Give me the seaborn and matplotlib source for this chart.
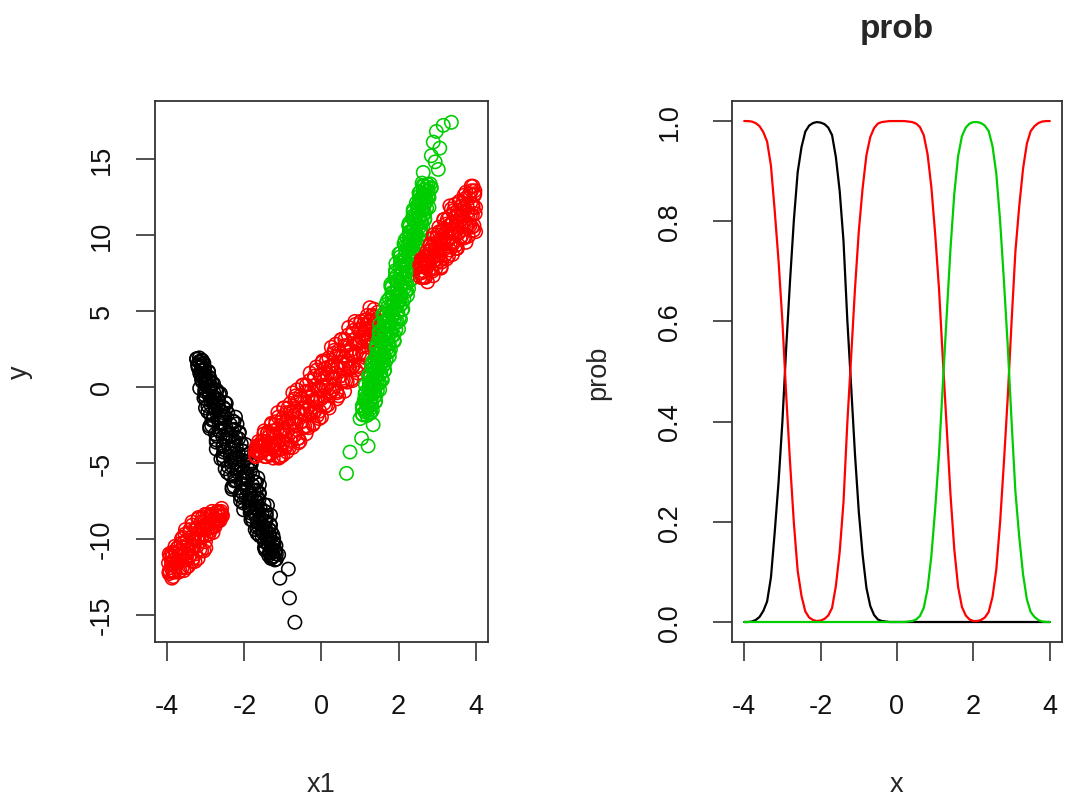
import matplotlib
matplotlib.use("Agg")
import matplotlib.pyplot as plt
import pandas as pd
import seaborn as sns

# ---------------- left panel: scatter (x1, y) ----------------
black_x = [-3.17, -3.24, -3.09, -3.16, -3.09, -3.21, -3.11, -3.03, -3.12, -2.93,
           -3.16, -3.01, -3.07, -2.90, -3.11, -2.92, -2.99, -2.80, -3.01, -2.90,
           -3.16, -2.74, -3.03, -2.79, -2.65, -2.91, -2.82, -3.00, -2.67, -2.81,
           -2.47, -2.87, -2.67, -3.01, -2.48, -2.75, -2.55, -2.88, -2.61, -2.23,
           -2.50, -2.84, -2.27, -2.61, -2.36, -2.90, -2.53, -2.27, -2.66, -2.13,
           -2.75, -2.38, -2.56, -2.15, -2.73, -2.24, -2.46, -1.97, -2.56, -2.30,
           -2.73, -2.07, -2.54, -2.16, -1.95, -2.37, -2.24, -2.54, -2.01, -2.24,
           -1.82, -2.33, -2.07, -2.50, -1.84, -2.19, -1.93, -2.36, -2.03, -1.65,
           -1.92, -2.26, -1.69, -2.03, -1.78, -2.32, -1.95, -1.69, -2.08, -1.61,
           -2.12, -1.81, -1.96, -1.62, -2.10, -1.69, -1.87, -1.40, -1.88, -1.67,
           -2.02, -1.47, -1.85, -1.54, -1.43, -1.69, -1.60, -1.78, -1.45, -1.58,
           -1.32, -1.63, -1.46, -1.72, -1.31, -1.52, -1.35, -1.61, -1.40, -1.24,
           -1.35, -1.48, -1.23, -1.37, -1.25, -1.48, -1.31, -1.19, -1.35, -1.17,
           -1.37, -1.28, -1.31, -1.21,
           -0.86, -1.08, -0.83, -0.69]
black_y = [1.9, 1.8, 1.7, 1.6, 1.5, 1.4, 1.3, 1.2, 1.1, 1.0,
           0.9, 0.8, 0.7, 0.6, 0.5, 0.4, 0.3, 0.2, 0.1, 0.0,
           -0.1, -0.2, -0.3, -0.4, -0.5, -0.6, -0.7, -0.8, -0.9, -1.0,
           -1.1, -1.2, -1.3, -1.4, -1.5, -1.6, -1.7, -1.8, -1.9, -2.0,
           -2.1, -2.2, -2.3, -2.4, -2.5, -2.6, -2.7, -2.8, -2.9, -3.0,
           -3.1, -3.2, -3.3, -3.4, -3.5, -3.6, -3.7, -3.8, -3.9, -4.0,
           -4.1, -4.2, -4.3, -4.4, -4.5, -4.6, -4.7, -4.8, -4.9, -5.0,
           -5.1, -5.2, -5.3, -5.4, -5.5, -5.6, -5.7, -5.8, -5.9, -6.0,
           -6.1, -6.2, -6.3, -6.4, -6.5, -6.6, -6.7, -6.8, -6.9, -7.0,
           -7.1, -7.2, -7.3, -7.4, -7.5, -7.6, -7.7, -7.8, -7.9, -8.0,
           -8.1, -8.2, -8.3, -8.4, -8.5, -8.6, -8.7, -8.8, -8.9, -9.0,
           -9.1, -9.2, -9.3, -9.4, -9.5, -9.6, -9.7, -9.8, -9.9, -10.0,
           -10.1, -10.2, -10.3, -10.4, -10.5, -10.6, -10.7, -10.8, -10.9, -11.0,
           -11.1, -11.2, -11.3, -11.4,
           -12.0, -12.6, -13.9, -15.5]
black_x2 = [-3.24, -3.10, -3.18, -3.05, -3.21, -3.10, -3.20, -3.04, -3.11, -2.93,
            -3.04, -3.13, -2.93, -3.02, -2.95, -3.10, -2.84, -3.01, -2.87, -2.93,
            -3.02, -2.71, -2.92, -2.62, -3.03, -2.79, -3.05, -2.68, -2.87, -2.50,
            -2.74, -2.95, -2.55, -2.76, -2.62, -2.95, -2.43, -2.80, -2.53, -2.64,
            -2.81, -2.31, -2.66, -2.19, -2.85, -2.48, -2.90, -2.33, -2.63, -2.14,
            -2.44, -2.71, -2.21, -2.48, -2.31, -2.73, -2.08, -2.54, -2.21, -2.35,
            -2.52, -2.02, -2.37, -1.90, -2.56, -2.19, -2.61, -2.04, -2.34, -1.85,
            -2.15, -2.42, -1.92, -2.19, -2.02, -2.44, -1.79, -2.25, -1.92, -2.06,
            -2.23, -1.73, -2.08, -1.61, -2.27, -1.90, -2.32, -1.75, -2.05, -1.62,
            -1.87, -2.08, -1.67, -1.89, -1.68, -2.03, -1.49, -1.87, -1.59, -1.71,
            -1.84, -1.43, -1.72, -1.32, -1.81, -1.57, -1.83, -1.46, -1.65, -1.34,
            -1.52, -1.68, -1.37, -1.53, -1.41, -1.67, -1.26, -1.54, -1.33, -1.41,
            -1.47, -1.25, -1.39, -1.18, -1.46, -1.29, -1.46, -1.21, -1.33, -1.11,
            -1.24, -1.28, -1.17]
black_y2 = [1.85, 1.75, 1.65, 1.55, 1.45, 1.35, 1.25, 1.15, 1.05, 0.95,
            0.85, 0.75, 0.65, 0.55, 0.45, 0.35, 0.25, 0.15, 0.05, -0.05,
            -0.15, -0.25, -0.35, -0.45, -0.55, -0.65, -0.75, -0.85, -0.95, -1.05,
            -1.15, -1.25, -1.35, -1.45, -1.55, -1.65, -1.75, -1.85, -1.95, -2.05,
            -2.15, -2.25, -2.35, -2.45, -2.55, -2.65, -2.75, -2.85, -2.95, -3.05,
            -3.15, -3.25, -3.35, -3.45, -3.55, -3.65, -3.75, -3.85, -3.95, -4.05,
            -4.15, -4.25, -4.35, -4.45, -4.55, -4.65, -4.75, -4.85, -4.95, -5.05,
            -5.15, -5.25, -5.35, -5.45, -5.55, -5.65, -5.75, -5.85, -5.95, -6.05,
            -6.15, -6.25, -6.35, -6.45, -6.55, -6.65, -6.75, -6.85, -6.95, -7.05,
            -7.15, -7.25, -7.35, -7.45, -7.55, -7.65, -7.75, -7.85, -7.95, -8.05,
            -8.15, -8.25, -8.35, -8.45, -8.55, -8.65, -8.75, -8.85, -8.95, -9.05,
            -9.15, -9.25, -9.35, -9.45, -9.55, -9.65, -9.75, -9.85, -9.95, -10.05,
            -10.15, -10.25, -10.35, -10.45, -10.55, -10.65, -10.75, -10.85, -10.95, -11.05,
            -11.15, -11.25, -11.35]

red_a_x = [-3.97, -3.94, -3.92, -3.89, -3.87, -3.84, -3.81, -3.79, -3.76, -3.74,
           -3.71, -3.68, -3.66, -3.63, -3.61, -3.58, -3.55, -3.53, -3.50, -3.48,
           -3.45, -3.42, -3.40, -3.37, -3.35, -3.32, -3.29, -3.27, -3.24, -3.22,
           -3.19, -3.16, -3.14, -3.11, -3.09, -3.06, -3.03, -3.01, -2.98, -2.96,
           -2.93, -2.90, -2.88, -2.85, -2.83, -2.80, -2.77, -2.75, -2.72, -2.70,
           -2.67, -2.64, -2.62, -2.59, -2.57,
           -3.20, -3.35, -3.50, -3.70, -3.85, -3.95, -3.00, -3.88, -3.95, -3.80, -3.60]
red_a_y = [-11.6, -12.1, -11.1, -11.6, -11.2, -12.1, -11.4, -10.9, -11.5, -10.6,
           -11.6, -10.8, -11.4, -10.0, -11.9, -10.3, -11.0, -9.4, -11.2, -10.4,
           -11.8, -9.6, -11.1, -9.9, -9.1, -10.5, -10.1, -11.0, -9.3, -10.0,
           -8.6, -10.2, -9.4, -10.8, -8.6, -9.7, -8.9, -10.2, -9.2, -8.4,
           -8.9, -9.5, -8.4, -9.0, -8.5, -9.2, -8.7, -8.4, -8.8, -8.2,
           -8.8, -8.3, -8.5, -8.0, -8.5,
           -11.3, -11.5, -11.9, -12.2, -12.5, -12.3, -10.6, -12.6, -11.0, -10.5, -9.9]
red_a_x2 = [-3.957, -3.931, -3.905, -3.879, -3.853, -3.827, -3.801, -3.775, -3.749, -3.723,
            -3.697, -3.671, -3.645, -3.619, -3.593, -3.567, -3.541, -3.515, -3.489, -3.463,
            -3.437, -3.411, -3.385, -3.359, -3.333, -3.307, -3.281, -3.255, -3.229, -3.203,
            -3.177, -3.151, -3.125, -3.099, -3.073, -3.047, -3.021, -2.995, -2.969, -2.943,
            -2.917, -2.891, -2.865, -2.839, -2.813, -2.787, -2.761, -2.735, -2.709, -2.683,
            -2.657, -2.631, -2.605, -2.579]
red_a_y2 = [-12.2, -11.2, -11.9, -10.9, -12.2, -11.4, -12.2, -11.0, -11.6, -10.6,
            -11.1, -12.1, -10.3, -11.2, -10.6, -12.1, -9.7, -11.4, -10.1, -10.7,
            -11.2, -9.4, -10.7, -8.9, -11.3, -10.0, -11.5, -9.4, -10.5, -8.7,
            -9.8, -10.7, -8.9, -9.9, -9.2, -10.8, -8.4, -9.8, -9.0, -9.3,
            -9.7, -8.5, -9.3, -8.2, -9.6, -8.8, -9.2, -8.5, -8.8, -8.2,
            -8.5, -8.8, -8.2, -8.4]

red_b_x = [-1.720, -1.695, -1.670, -1.645, -1.620, -1.595, -1.570, -1.545, -1.520, -1.495,
           -1.470, -1.445, -1.420, -1.395, -1.370, -1.345, -1.320, -1.295, -1.270, -1.245,
           -1.220, -1.195, -1.170, -1.145, -1.120, -1.095, -1.070, -1.045, -1.020, -0.995,
           -0.970, -0.945, -0.920, -0.895, -0.870, -0.845, -0.820, -0.795, -0.770, -0.745,
           -0.720, -0.695, -0.670, -0.645, -0.620, -0.595, -0.570, -0.545, -0.520, -0.495,
           -0.470, -0.445, -0.420, -0.395, -0.370, -0.345, -0.320, -0.295, -0.270, -0.245,
           -0.220, -0.195, -0.170, -0.145, -0.120, -0.095, -0.070, -0.045, -0.020, 0.005,
           0.030, 0.055, 0.080, 0.105, 0.130, 0.155, 0.180, 0.205, 0.230, 0.255,
           0.280, 0.305, 0.330, 0.355, 0.380, 0.405, 0.430, 0.455, 0.480, 0.505,
           0.530, 0.555, 0.580, 0.605, 0.630, 0.655, 0.680, 0.705, 0.730, 0.755,
           0.780, 0.805, 0.830, 0.855, 0.880, 0.905, 0.930, 0.955, 0.980, 1.005,
           1.030, 1.055, 1.080, 1.105, 1.130, 1.155, 1.180, 1.205, 1.230, 1.255,
           1.280, 1.305, 1.330, 1.355, 1.380, 1.405, 1.430, 1.455,
           -0.90, -0.75, -0.60, -1.00, -0.40, -0.20, 0.00, 0.20, 0.40, -1.10,
           -1.25, 0.60, 0.80, 1.00, 1.15]
red_b_y = [-4.2, -4.5, -3.9, -4.2, -3.9, -4.3, -3.9, -3.6, -3.9, -3.1,
           -4.6, -3.6, -4.1, -3.0, -4.4, -3.1, -3.7, -2.4, -3.8, -3.1,
           -4.2, -2.5, -4.2, -2.8, -2.0, -3.5, -3.0, -4.1, -2.1, -2.9,
           -1.4, -3.2, -2.3, -3.8, -1.4, -2.6, -1.7, -3.6, -2.1, -0.4,
           -1.6, -3.2, -0.6, -2.1, -1.0, -3.4, -1.7, -0.6, -2.3, 0.1,
           -2.7, -1.0, -1.8, 0.1, -2.6, -0.3, -1.3, 0.9, -1.7, -0.6,
           -2.5, 0.5, -1.6, 0.1, 1.1, -0.8, -0.2, -1.6, 0.8, -0.2,
           1.7, -0.6, 0.6, -1.3, 1.7, 0.1, 1.3, -0.6, 0.9, 2.6,
           1.4, -0.2, 2.4, 0.9, 2.0, -0.4, 1.3, 2.4, 0.7, 3.1,
           0.3, 2.0, 1.2, 3.1, 0.4, 2.7, 1.7, 3.9, 1.3, 2.4,
           0.5, 3.5, 1.4, 3.1, 4.1, 2.2, 2.8, 1.4, 3.8, 2.9,
           4.3, 2.6, 3.5, 2.1, 4.4, 3.2, 4.1, 2.6, 3.8, 5.2,
           4.3, 3.4, 4.7, 4.0, 4.6, 3.4, 4.3, 4.9,
           -4.3, -4.0, -3.7, -4.5, -3.1, -2.4, -2.0, -1.4, -0.8, -4.6,
           -4.7, -0.3, 0.4, 1.3, 1.9]
red_b_x2 = [-1.708, -1.683, -1.658, -1.633, -1.608, -1.583, -1.558, -1.533, -1.508, -1.483,
            -1.458, -1.433, -1.408, -1.383, -1.358, -1.333, -1.308, -1.283, -1.258, -1.233,
            -1.208, -1.183, -1.158, -1.133, -1.108, -1.083, -1.058, -1.033, -1.008, -0.983,
            -0.958, -0.933, -0.908, -0.883, -0.858, -0.833, -0.808, -0.783, -0.758, -0.733,
            -0.708, -0.683, -0.658, -0.633, -0.608, -0.583, -0.558, -0.533, -0.508, -0.483,
            -0.458, -0.433, -0.408, -0.383, -0.358, -0.333, -0.308, -0.283, -0.258, -0.233,
            -0.208, -0.183, -0.158, -0.133, -0.108, -0.083, -0.058, -0.033, -0.008, 0.018,
            0.043, 0.068, 0.093, 0.118, 0.143, 0.168, 0.193, 0.218, 0.243, 0.268,
            0.293, 0.318, 0.343, 0.368, 0.393, 0.418, 0.443, 0.468, 0.493, 0.518,
            0.543, 0.568, 0.593, 0.618, 0.643, 0.668, 0.693, 0.718, 0.743, 0.768,
            0.793, 0.818, 0.843, 0.868, 0.893, 0.918, 0.943, 0.968, 0.993, 1.018,
            1.043, 1.068, 1.093, 1.118, 1.143, 1.168, 1.193, 1.218, 1.243, 1.268,
            1.293, 1.318, 1.343, 1.368, 1.393, 1.418, 1.443]
red_b_y2 = [-4.6, -3.9, -4.3, -3.6, -4.4, -3.9, -4.3, -3.6, -3.9, -2.9,
            -3.8, -4.6, -3.1, -3.8, -3.3, -4.5, -2.5, -3.9, -2.9, -3.3,
            -3.7, -2.3, -3.8, -1.7, -4.7, -3.0, -4.6, -2.3, -3.7, -1.4,
            -2.8, -4.0, -1.7, -2.9, -2.1, -4.0, -1.1, -3.3, -1.7, -2.4,
            -3.2, -0.8, -2.5, -0.2, -3.4, -1.6, -3.6, -0.8, -2.3, 0.1,
            -1.4, -2.6, -0.3, -1.5, -0.7, -2.7, 0.4, -1.8, -0.2, -0.9,
            -1.7, 0.7, -1.0, 1.3, -1.9, -0.1, -2.1, 0.7, -0.8, 1.6,
            0.1, -1.1, 1.2, 0.0, 0.8, -1.2, 1.9, -0.3, 1.3, 0.6,
            -0.2, 2.2, 0.5, 2.8, -0.3, 1.4, -0.6, 2.2, 0.7, 3.1,
            1.6, 0.4, 2.7, 1.5, 2.3, 0.3, 3.4, 1.2, 2.8, 2.1,
            1.3, 3.7, 2.0, 4.3, 1.1, 2.9, 0.9, 3.7, 2.2, 4.3,
            3.2, 2.2, 4.1, 3.1, 3.8, 2.2, 4.7, 3.0, 4.3, 3.7,
            3.1, 4.7, 3.8, 5.1, 3.4, 4.4, 3.4]

red_c_x = [2.550, 2.571, 2.592, 2.613, 2.634, 2.655, 2.676, 2.697, 2.718, 2.739,
           2.760, 2.781, 2.802, 2.823, 2.844, 2.865, 2.886, 2.907, 2.928, 2.949,
           2.970, 2.991, 3.012, 3.033, 3.054, 3.075, 3.096, 3.117, 3.138, 3.159,
           3.180, 3.201, 3.222, 3.243, 3.264, 3.285, 3.306, 3.327, 3.348, 3.369,
           3.390, 3.411, 3.432, 3.453, 3.474, 3.495, 3.516, 3.537, 3.558, 3.579,
           3.600, 3.621, 3.642, 3.663, 3.684, 3.705, 3.726, 3.747, 3.768, 3.789,
           3.810, 3.831, 3.852, 3.873, 3.894, 3.915, 3.936, 3.957, 3.978, 3.999,
           3.93, 3.98, 3.70, 3.33, 4.00, 3.75, 3.40, 3.10, 2.70, 2.62, 2.75, 2.90]
red_c_y = [8.0, 7.5, 8.4, 7.9, 8.3, 7.6, 8.2, 8.6, 8.0, 8.9,
           8.0, 8.6, 8.2, 9.4, 7.7, 9.2, 8.5, 10.0, 8.3, 9.1,
           7.8, 9.8, 8.4, 9.6, 10.2, 9.0, 9.4, 8.2, 10.3, 9.4,
           11.0, 9.1, 10.1, 8.4, 11.0, 9.6, 10.6, 9.0, 10.3, 11.7,
           10.7, 9.4, 11.6, 10.3, 11.2, 9.1, 10.6, 11.6, 10.1, 12.2,
           9.8, 11.2, 10.5, 12.1, 9.8, 11.8, 10.9, 12.8, 10.6, 11.5,
           9.9, 12.4, 10.6, 12.1, 12.9, 11.3, 11.8, 10.6, 12.7, 11.8,
           13.2, 12.9, 12.6, 11.9, 10.2, 9.5, 8.7, 7.8, 7.2, 7.2, 6.9, 7.3]
red_c_x2 = [2.561, 2.582, 2.602, 2.623, 2.644, 2.666, 2.686, 2.708, 2.728, 2.750,
            2.770, 2.792, 2.812, 2.834, 2.854, 2.876, 2.896, 2.918, 2.938, 2.960,
            2.980, 3.002, 3.022, 3.044, 3.064, 3.086, 3.106, 3.128, 3.148, 3.170,
            3.190, 3.212, 3.232, 3.254, 3.274, 3.296, 3.316, 3.338, 3.358, 3.380,
            3.400, 3.422, 3.442, 3.464, 3.484, 3.506, 3.526, 3.548, 3.568, 3.590,
            3.610, 3.632, 3.652, 3.674, 3.694, 3.716, 3.736, 3.758, 3.778, 3.800,
            3.820, 3.842, 3.862, 3.884, 3.904, 3.926, 3.946, 3.968, 3.988]
red_c_y2 = [7.2, 8.1, 7.5, 8.4, 7.2, 7.9, 7.2, 8.3, 7.8, 8.7,
            8.2, 7.7, 9.3, 8.4, 9.0, 7.6, 9.8, 8.3, 9.4, 8.9,
            8.4, 10.0, 8.9, 10.5, 8.3, 9.5, 7.9, 10.2, 9.0, 11.0,
            9.7, 8.7, 10.7, 9.6, 10.3, 8.6, 11.2, 9.4, 10.7, 10.1,
            9.5, 11.4, 10.1, 12.0, 9.3, 10.8, 9.1, 11.4, 10.2, 12.2,
            11.0, 9.9, 11.9, 10.8, 11.5, 9.8, 12.4, 10.6, 11.9, 11.3,
            10.7, 12.7, 11.3, 13.2, 10.5, 12.0, 10.3, 12.6, 11.4]

green_x = [1.18, 1.06, 1.28, 1.15, 1.25, 1.06, 1.20, 1.30, 1.16, 1.40,
           1.11, 1.29, 1.21, 1.41, 1.13, 1.37, 1.27, 1.51, 1.23, 1.36,
           1.14, 1.48, 1.24, 1.44, 1.56, 1.34, 1.41, 1.25, 1.54, 1.42,
           1.64, 1.38, 1.52, 1.30, 1.64, 1.46, 1.60, 1.38, 1.56, 1.76,
           1.62, 1.44, 1.75, 1.57, 1.70, 1.42, 1.62, 1.76, 1.56, 1.89,
           1.48, 1.73, 1.61, 1.88, 1.50, 1.82, 1.67, 2.00, 1.62, 1.78,
           1.51, 1.93, 1.63, 1.88, 2.02, 1.74, 1.83, 1.63, 1.98, 1.84,
           2.11, 1.78, 1.95, 1.67, 2.10, 1.87, 2.04, 1.76, 1.98, 2.23,
           2.06, 1.83, 2.21, 1.98, 2.15, 1.80, 2.04, 2.21, 1.96, 2.31,
           1.90, 2.15, 2.03, 2.30, 1.92, 2.24, 2.09, 2.42, 2.04, 2.20,
           1.93, 2.35, 2.05, 2.30, 2.44, 2.16, 2.25, 2.05, 2.40, 2.26,
           2.48, 2.22, 2.36, 2.14, 2.48, 2.30, 2.44, 2.22, 2.40, 2.60,
           2.46, 2.28, 2.59, 2.41, 2.54, 2.26, 2.46, 2.60, 2.40, 2.68,
           2.36, 2.56, 2.46, 2.68, 2.38, 2.64, 2.52, 2.79, 2.48, 2.61,
           2.46, 2.71, 2.54, 2.68, 2.77, 2.62, 2.67, 2.56, 2.77, 2.69,
           2.85, 2.66, 2.76, 2.61,
           1.00, 1.34, 1.04, 1.21, 0.74, 0.65,
           3.37, 3.16, 2.98, 2.90, 3.07, 2.85, 3.03, 2.64, 2.95]
green_y = [-1.9, -1.8, -1.7, -1.6, -1.5, -1.4, -1.3, -1.2, -1.1, -1.0,
           -0.9, -0.8, -0.7, -0.6, -0.5, -0.4, -0.3, -0.2, -0.1, 0.0,
           0.1, 0.2, 0.3, 0.4, 0.5, 0.6, 0.7, 0.8, 0.9, 1.0,
           1.1, 1.2, 1.3, 1.4, 1.5, 1.6, 1.7, 1.8, 1.9, 2.0,
           2.1, 2.2, 2.3, 2.4, 2.5, 2.6, 2.7, 2.8, 2.9, 3.0,
           3.1, 3.2, 3.3, 3.4, 3.5, 3.6, 3.7, 3.8, 3.9, 4.0,
           4.1, 4.2, 4.3, 4.4, 4.5, 4.6, 4.7, 4.8, 4.9, 5.0,
           5.1, 5.2, 5.3, 5.4, 5.5, 5.6, 5.7, 5.8, 5.9, 6.0,
           6.1, 6.2, 6.3, 6.4, 6.5, 6.6, 6.7, 6.8, 6.9, 7.0,
           7.1, 7.2, 7.3, 7.4, 7.5, 7.6, 7.7, 7.8, 7.9, 8.0,
           8.1, 8.2, 8.3, 8.4, 8.5, 8.6, 8.7, 8.8, 8.9, 9.0,
           9.1, 9.2, 9.3, 9.4, 9.5, 9.6, 9.7, 9.8, 9.9, 10.0,
           10.1, 10.2, 10.3, 10.4, 10.5, 10.6, 10.7, 10.8, 10.9, 11.0,
           11.1, 11.2, 11.3, 11.4, 11.5, 11.6, 11.7, 11.8, 11.9, 12.0,
           12.1, 12.2, 12.3, 12.4, 12.5, 12.6, 12.7, 12.8, 12.9, 13.0,
           13.1, 13.2, 13.3, 13.4,
           -2.1, -2.5, -3.4, -3.9, -4.3, -5.7,
           17.4, 17.2, 16.8, 16.1, 15.7, 15.2, 14.3, 14.1, 14.8]
green_x2 = [1.07, 1.26, 1.13, 1.32, 1.07, 1.22, 1.06, 1.28, 1.17, 1.40,
            1.26, 1.13, 1.37, 1.25, 1.34, 1.14, 1.45, 1.24, 1.40, 1.33,
            1.25, 1.51, 1.33, 1.58, 1.24, 1.44, 1.22, 1.52, 1.36, 1.63,
            1.47, 1.33, 1.59, 1.46, 1.55, 1.33, 1.68, 1.44, 1.62, 1.54,
            1.46, 1.72, 1.54, 1.79, 1.45, 1.65, 1.43, 1.73, 1.57, 1.88,
            1.68, 1.51, 1.83, 1.66, 1.78, 1.50, 1.93, 1.62, 1.84, 1.75,
            1.64, 1.97, 1.74, 2.05, 1.62, 1.86, 1.59, 1.96, 1.77, 2.09,
            1.89, 1.72, 2.04, 1.87, 1.99, 1.71, 2.14, 1.83, 2.05, 1.96,
            1.85, 2.18, 1.95, 2.26, 1.83, 2.07, 1.80, 2.17, 1.98, 2.30,
            2.10, 1.93, 2.25, 2.08, 2.20, 1.92, 2.35, 2.04, 2.26, 2.17,
            2.06, 2.39, 2.16, 2.47, 2.04, 2.29, 2.01, 2.38, 2.19, 2.47,
            2.31, 2.17, 2.43, 2.30, 2.39, 2.17, 2.52, 2.28, 2.46, 2.38,
            2.30, 2.56, 2.38, 2.63, 2.29, 2.49, 2.27, 2.57, 2.41, 2.68,
            2.52, 2.38, 2.64, 2.51, 2.60, 2.38, 2.73, 2.49, 2.67, 2.60,
            2.54, 2.73, 2.60, 2.79, 2.54, 2.69, 2.53, 2.75, 2.64, 2.84,
            2.73, 2.63, 2.82]
green_y2 = [-1.85, -1.75, -1.65, -1.55, -1.45, -1.35, -1.25, -1.15, -1.05, -0.95,
            -0.85, -0.75, -0.65, -0.55, -0.45, -0.35, -0.25, -0.15, -0.05, 0.05,
            0.15, 0.25, 0.35, 0.45, 0.55, 0.65, 0.75, 0.85, 0.95, 1.05,
            1.15, 1.25, 1.35, 1.45, 1.55, 1.65, 1.75, 1.85, 1.95, 2.05,
            2.15, 2.25, 2.35, 2.45, 2.55, 2.65, 2.75, 2.85, 2.95, 3.05,
            3.15, 3.25, 3.35, 3.45, 3.55, 3.65, 3.75, 3.85, 3.95, 4.05,
            4.15, 4.25, 4.35, 4.45, 4.55, 4.65, 4.75, 4.85, 4.95, 5.05,
            5.15, 5.25, 5.35, 5.45, 5.55, 5.65, 5.75, 5.85, 5.95, 6.05,
            6.15, 6.25, 6.35, 6.45, 6.55, 6.65, 6.75, 6.85, 6.95, 7.05,
            7.15, 7.25, 7.35, 7.45, 7.55, 7.65, 7.75, 7.85, 7.95, 8.05,
            8.15, 8.25, 8.35, 8.45, 8.55, 8.65, 8.75, 8.85, 8.95, 9.05,
            9.15, 9.25, 9.35, 9.45, 9.55, 9.65, 9.75, 9.85, 9.95, 10.05,
            10.15, 10.25, 10.35, 10.45, 10.55, 10.65, 10.75, 10.85, 10.95, 11.05,
            11.15, 11.25, 11.35, 11.45, 11.55, 11.65, 11.75, 11.85, 11.95, 12.05,
            12.15, 12.25, 12.35, 12.45, 12.55, 12.65, 12.75, 12.85, 12.95, 13.05,
            13.15, 13.25, 13.35]

# ---------------- right panel: class probabilities ----------------
grid_x = [-4.0, -3.9, -3.8, -3.7, -3.6, -3.5, -3.4, -3.3, -3.2, -3.1,
          -3.0, -2.9, -2.8, -2.7, -2.6, -2.5, -2.4, -2.3, -2.2, -2.1,
          -2.0, -1.9, -1.8, -1.7, -1.6, -1.5, -1.4, -1.3, -1.2, -1.1,
          -1.0, -0.9, -0.8, -0.7, -0.6, -0.5, -0.4, -0.3, -0.2, -0.1,
          0.0, 0.1, 0.2, 0.3, 0.4, 0.5, 0.6, 0.7, 0.8, 0.9,
          1.0, 1.1, 1.2, 1.3, 1.4, 1.5, 1.6, 1.7, 1.8, 1.9,
          2.0, 2.1, 2.2, 2.3, 2.4, 2.5, 2.6, 2.7, 2.8, 2.9,
          3.0, 3.1, 3.2, 3.3, 3.4, 3.5, 3.6, 3.7, 3.8, 3.9, 4.0]
prob_red = [1.000, 1.000, 0.999, 0.996, 0.990, 0.978, 0.959, 0.911, 0.820, 0.720,
            0.600, 0.452, 0.319, 0.198, 0.102, 0.052, 0.021, 0.009, 0.004, 0.002,
            0.003, 0.006, 0.013, 0.028, 0.072, 0.140, 0.240, 0.398, 0.530, 0.665,
            0.780, 0.866, 0.932, 0.968, 0.986, 0.995, 0.998, 0.999, 1.000, 1.000,
            1.000, 1.000, 1.000, 0.999, 0.998, 0.995, 0.988, 0.972, 0.934, 0.868,
            0.774, 0.665, 0.525, 0.390, 0.255, 0.145, 0.070, 0.030, 0.013, 0.005,
            0.002, 0.002, 0.004, 0.009, 0.020, 0.050, 0.105, 0.200, 0.320, 0.450,
            0.600, 0.740, 0.830, 0.905, 0.955, 0.980, 0.990, 0.996, 0.999, 1.000, 1.000]
prob_black = [0.000, 0.000, 0.001, 0.004, 0.010, 0.022, 0.041, 0.089, 0.180, 0.280,
              0.400, 0.548, 0.681, 0.802, 0.898, 0.948, 0.979, 0.991, 0.996, 0.998,
              0.997, 0.994, 0.987, 0.972, 0.928, 0.860, 0.760, 0.602, 0.470, 0.335,
              0.220, 0.134, 0.068, 0.032, 0.014, 0.005, 0.002, 0.001, 0.000, 0.000,
              0.000, 0.000, 0.000, 0.000, 0.000, 0.000, 0.000, 0.000, 0.000, 0.000,
              0.000, 0.000, 0.000, 0.000, 0.000, 0.000, 0.000, 0.000, 0.000, 0.000,
              0.000, 0.000, 0.000, 0.000, 0.000, 0.000, 0.000, 0.000, 0.000, 0.000,
              0.000, 0.000, 0.000, 0.000, 0.000, 0.000, 0.000, 0.000, 0.000, 0.000, 0.000]
prob_green = [0.000, 0.000, 0.000, 0.000, 0.000, 0.000, 0.000, 0.000, 0.000, 0.000,
              0.000, 0.000, 0.000, 0.000, 0.000, 0.000, 0.000, 0.000, 0.000, 0.000,
              0.000, 0.000, 0.000, 0.000, 0.000, 0.000, 0.000, 0.000, 0.000, 0.000,
              0.000, 0.000, 0.000, 0.000, 0.000, 0.000, 0.000, 0.000, 0.000, 0.000,
              0.000, 0.000, 0.000, 0.001, 0.002, 0.005, 0.012, 0.028, 0.066, 0.132,
              0.226, 0.335, 0.475, 0.610, 0.745, 0.855, 0.930, 0.970, 0.987, 0.995,
              0.998, 0.998, 0.996, 0.991, 0.980, 0.950, 0.895, 0.800, 0.680, 0.550,
              0.400, 0.260, 0.170, 0.095, 0.045, 0.020, 0.010, 0.004, 0.001, 0.000, 0.000]

x_ticks = [-4, -2, 0, 2, 4]
y_ticks_left = [-15, -10, -5, 0, 5, 10, 15]
y_ticks_right = [0.0, 0.2, 0.4, 0.6, 0.8, 1.0]

palette = {"black": "#000000", "red": "#FF0000", "green": "#00CD00"}

# ---------------- style ----------------
sns.set_theme(style="ticks")
plt.rcParams["font.family"] = ["Liberation Sans", "DejaVu Sans"]
plt.rcParams["axes.unicode_minus"] = False

FS = 19.5
EDGE = "#333333"

fig = plt.figure(figsize=(10.65, 8.04), dpi=100)
fig.patch.set_facecolor("white")
ax1 = fig.add_axes([0.1455, 0.2002, 0.3127, 0.6729])
ax2 = fig.add_axes([0.6873, 0.2002, 0.3099, 0.6729])

# ---------------- scatter ----------------
groups = [("black", black_x, black_y), ("black", black_x2, black_y2),
          ("red", red_a_x, red_a_y), ("red", red_a_x2, red_a_y2),
          ("red", red_b_x, red_b_y), ("red", red_b_x2, red_b_y2),
          ("red", red_c_x, red_c_y), ("red", red_c_x2, red_c_y2),
          ("green", green_x, green_y), ("green", green_x2, green_y2)]
pts = pd.concat([pd.DataFrame({"x1": xs, "y": ys, "cls": c}) for c, xs, ys in groups])
pts = pts.sort_values("x1", kind="mergesort").reset_index(drop=True)

sns.scatterplot(data=pts, x="x1", y="y", hue="cls", palette=palette,
                s=92, linewidth=1.15, legend=False, ax=ax1)
coll = ax1.collections[0]
coll.set_edgecolors(coll.get_facecolors())
coll.set_facecolors("none")

ax1.set_xlim(-4.32, 4.32)
ax1.set_ylim(-16.8, 18.8)
ax1.set_xticks(x_ticks)
ax1.set_xticklabels([str(v) for v in x_ticks])
ax1.set_yticks(y_ticks_left)
ax1.set_yticklabels([str(v) for v in y_ticks_left])
ax1.set_xlabel("x1", fontsize=FS)
ax1.set_ylabel("y", fontsize=FS)

# ---------------- probability curves ----------------
curves = pd.DataFrame({
    "x": grid_x + grid_x + grid_x,
    "prob": prob_black + prob_red + prob_green,
    "cls": ["black"] * len(grid_x) + ["red"] * len(grid_x) + ["green"] * len(grid_x),
})
sns.lineplot(data=curves, x="x", y="prob", hue="cls", hue_order=["black", "red", "green"],
             palette=palette, linewidth=1.6, estimator=None, sort=False,
             legend=False, ax=ax2)
ax2.set_xlim(-4.32, 4.32)
ax2.set_ylim(-0.04, 1.04)
ax2.set_xticks(x_ticks)
ax2.set_xticklabels([str(v) for v in x_ticks])
ax2.set_yticks(y_ticks_right)
ax2.set_yticklabels([f"{v:.1f}" for v in y_ticks_right])
ax2.set_xlabel("x", fontsize=FS)
ax2.set_ylabel("prob", fontsize=FS)
ax2.set_title("prob", fontsize=24, fontweight="bold", pad=46)

# ---------------- R-like axes ----------------
for ax in (ax1, ax2):
    ax.set_facecolor("white")
    for sp in ax.spines.values():
        sp.set_visible(True)
        sp.set_color(EDGE)
        sp.set_linewidth(1.3)
    ax.tick_params(axis="both", direction="out", length=14, width=1.2,
                   color=EDGE, labelsize=FS, labelcolor="#111111")
    ax.tick_params(axis="x", pad=23)
    ax.tick_params(axis="y", labelrotation=90)
    for lab in ax.get_yticklabels():
        lab.set_va("center")
    ax.xaxis.set_label_coords(0.5, -0.2625)
    ax.xaxis.label.set_va("center")
    ax.yaxis.label.set_va("center")
    ax.grid(False)

ax1.tick_params(axis="y", pad=15)
ax2.tick_params(axis="y", pad=21)
ax1.yaxis.set_label_coords(-0.405, 0.5)
ax2.yaxis.set_label_coords(-0.406, 0.5)

fig.savefig("out.png", dpi=100, facecolor="white")
